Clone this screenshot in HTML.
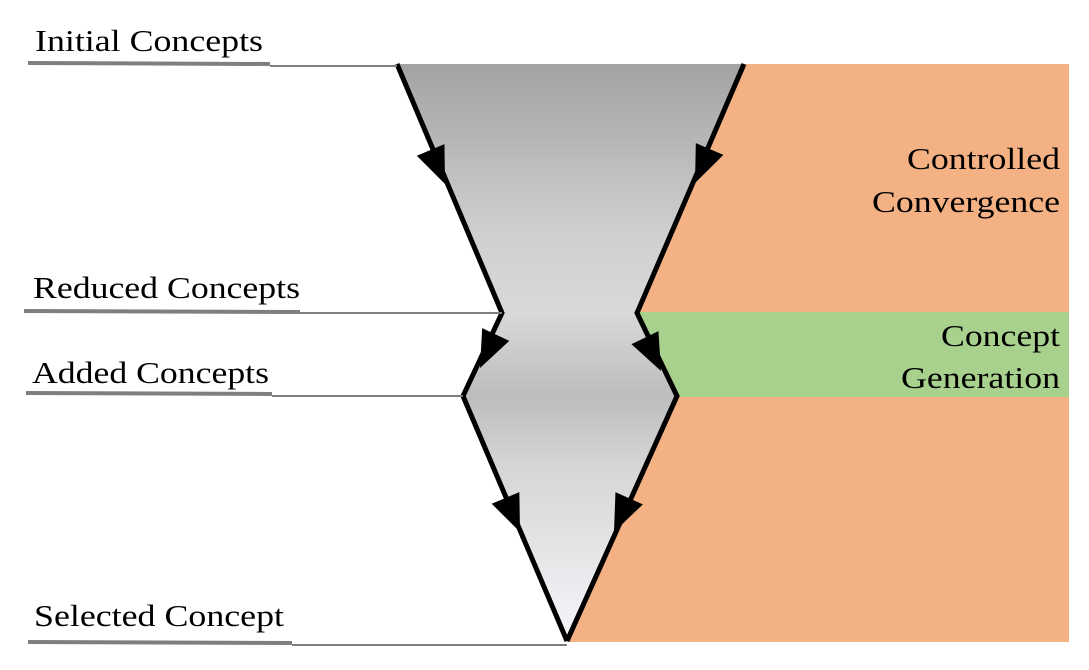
<!DOCTYPE html>
<html><head><meta charset="utf-8"><style>
body{margin:0;background:#fff}
svg{display:block}
text{font-family:"Liberation Serif","Times New Roman",serif;font-size:31px;fill:#000}
</style></head><body>
<svg width="1089" height="670" viewBox="0 0 1089 670">
<defs>
<linearGradient id="g" x1="0" y1="64" x2="0" y2="641" gradientUnits="userSpaceOnUse">
<stop offset="0" stop-color="#a3a3a3"/>
<stop offset="0.3" stop-color="#d0d0d0"/>
<stop offset="0.43" stop-color="#d9d9d9"/>
<stop offset="0.575" stop-color="#bdbdbd"/>
<stop offset="0.7" stop-color="#d6d6d6"/>
<stop offset="1" stop-color="#f5f6fa"/>
</linearGradient>
</defs>
<polygon fill="#f4b183" points="744,64 1069,64 1069,642 567,642 677,396 637,313"/>
<polygon fill="#a9d18e" points="637,312 1069,312 1069,397 677,397"/>
<polygon fill="url(#g)" points="397,64 744,64 637,313 677,396 567,641 463,396 502,313"/>
<polyline fill="none" stroke="#000" stroke-width="5" points="397,64 502,313 463,396 567,641"/>
<polyline fill="none" stroke="#000" stroke-width="5" points="744,64 637,313 677,396 567,641"/>
<g id="arrows"></g>
<g>
<line x1="28" y1="63" x2="270" y2="64" stroke="#7f7f7f" stroke-width="4"/>
<line x1="270" y1="66" x2="397" y2="66" stroke="#7f7f7f" stroke-width="2"/>
<line x1="24" y1="311" x2="300" y2="312" stroke="#7f7f7f" stroke-width="4"/>
<line x1="300" y1="313" x2="502" y2="313" stroke="#7f7f7f" stroke-width="2"/>
<line x1="26" y1="393" x2="272" y2="394" stroke="#7f7f7f" stroke-width="4"/>
<line x1="272" y1="396" x2="463" y2="396" stroke="#7f7f7f" stroke-width="2"/>
<line x1="28" y1="642" x2="292" y2="643" stroke="#7f7f7f" stroke-width="4"/>
<line x1="292" y1="645" x2="567" y2="645" stroke="#7f7f7f" stroke-width="2"/>
</g>
<text x="35" y="51" textLength="228" lengthAdjust="spacingAndGlyphs">Initial Concepts</text>
<text x="33" y="298" textLength="267" lengthAdjust="spacingAndGlyphs">Reduced Concepts</text>
<text x="32" y="383" textLength="237" lengthAdjust="spacingAndGlyphs">Added Concepts</text>
<text x="34" y="626" textLength="250" lengthAdjust="spacingAndGlyphs">Selected Concept</text>
<text x="907" y="169" textLength="153" lengthAdjust="spacingAndGlyphs">Controlled</text>
<text x="872" y="212" textLength="188" lengthAdjust="spacingAndGlyphs">Convergence</text>
<text x="941" y="346" textLength="119" lengthAdjust="spacingAndGlyphs">Concept</text>
<text x="901" y="388" textLength="159" lengthAdjust="spacingAndGlyphs">Generation</text>
</svg>
<script>
const arrowTips=[[445,184,397,64,502,313],[695,183,744,64,637,313],[480,368,502,313,463,396],[661,371,637,313,677,396],[520,532,463,396,567,641],[614,532,677,396,567,641]];
const g=document.getElementById('arrows');
arrowTips.forEach(a=>{
 const [tx,ty,x1,y1,x2,y2]=a;
 const dx=x2-x1,dy=y2-y1,l=Math.hypot(dx,dy),ux=dx/l,uy=dy/l,px=-uy,py=ux;
 const L=37,W=15;
 const bx=tx-ux*L,by=ty-uy*L;
 const p=document.createElementNS('http://www.w3.org/2000/svg','polygon');
 p.setAttribute('points',`${tx},${ty} ${bx+px*W},${by+py*W} ${bx-px*W},${by-py*W}`);
 p.setAttribute('fill','#000');
 
 
 g.appendChild(p);
});
</script>
</body></html>
